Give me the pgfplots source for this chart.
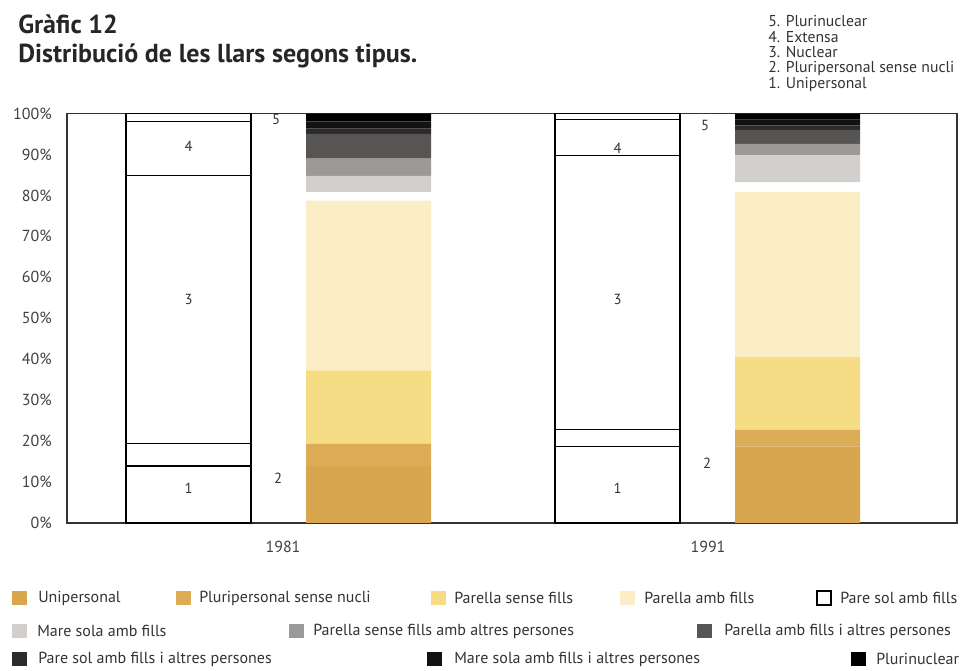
\documentclass[border=0pt]{standalone}
\usepackage{fontspec}
\setmainfont{PT Sans}
\usepackage{pgfplots}
\pgfplotsset{compat=1.18}

\definecolor{cUni}{HTML}{D8A64E}
\definecolor{cPluri}{HTML}{DCAD56}
\definecolor{cPsf}{HTML}{F6DC84}
\definecolor{cPaf}{HTML}{FBEDC6}
\definecolor{cMsf}{HTML}{D2CFCC}
\definecolor{cPsfa}{HTML}{9C9A98}
\definecolor{cPafa}{HTML}{575553}
\definecolor{cPsfia}{HTML}{2C2A2A}
\definecolor{cMsfia}{HTML}{121212}
\definecolor{cPlur}{HTML}{000000}

\tikzset{
  barlbl/.style={font=\fontsize{11}{13}\selectfont, text=black!80},
  keytxt/.style={anchor=base west, inner sep=0, font=\fontsize{11.8}{13}\selectfont, text=black!80},
  legtxt/.style={anchor=west, inner sep=0, font=\fontsize{12}{14}\selectfont, text=black!80},
  ttl/.style={anchor=base west, inner sep=0, font=\fontsize{19.5}{22}\selectfont\bfseries, text=black!85},
}

\begin{document}
\begin{tikzpicture}[x=0.75pt,y=0.75pt]
\useasboundingbox (0,0) rectangle (962,670);

% titles
\node[ttl] at (18,636) {Gràfic 12};
\node[ttl] at (18,607) {Distribució de les llars segons tipus.};

% key of the outline bars
\node[keytxt] at (768,643) {5. Plurinuclear};
\node[keytxt] at (768,627) {4. Extensa};
\node[keytxt] at (768,612) {3. Nuclear};
\node[keytxt] at (768,597) {2. Pluripersonal sense nucli};
\node[keytxt] at (768,581) {1. Unipersonal};

% outline bars (types 1-5)
\begin{axis}[
  at={(50.25pt,110.25pt)}, anchor=south west,
  scale only axis, width=667.5pt, height=307.1pt,
  xmin=67, xmax=957, ymin=0, ymax=100,
  ybar stacked, bar width=125,
  axis line style={line width=0.9pt, black!80},
  ytick={0,10,...,100},
  yticklabel={\pgfmathprintnumber{\tick}\%},
  xtick={283,708}, xticklabels={1981,1991},
  major tick length=0,
  tick label style={font=\fontsize{12}{14}\selectfont, text=black!75},
  yticklabel style={xshift=-8pt},
  xticklabel style={yshift=-10pt},
  /pgf/number format/assume math mode=true,
  clip=false,
]
\addplot[draw=black, fill=none, line width=0.9pt] coordinates {(188.5,13.9) (617.5,18.7)};
\addplot[draw=black, fill=none, line width=0.9pt] coordinates {(188.5,5.5) (617.5,4.1)};
\addplot[draw=black, fill=none, line width=0.9pt] coordinates {(188.5,65.4) (617.5,67.0)};
\addplot[draw=black, fill=none, line width=0.9pt] coordinates {(188.5,13.3) (617.5,8.7)};
\addplot[draw=black, fill=none, line width=0.9pt] coordinates {(188.5,1.9) (617.5,1.5)};

\node[barlbl] at (axis cs:188.5,8.6) {1};
\node[barlbl] at (axis cs:278,10.8) {2};
\node[barlbl] at (axis cs:188.5,54.5) {3};
\node[barlbl] at (axis cs:188.5,91.9) {4};
\node[barlbl] at (axis cs:276,98.5) {5};
\node[barlbl] at (axis cs:617.5,8.6) {1};
\node[barlbl] at (axis cs:707,14.7) {2};
\node[barlbl] at (axis cs:617.5,54.5) {3};
\node[barlbl] at (axis cs:617.5,91.5) {4};
\node[barlbl] at (axis cs:705,97) {5};
\end{axis}

% coloured bars (detailed types)
\begin{axis}[
  at={(50.25pt,110.25pt)}, anchor=south west,
  scale only axis, width=667.5pt, height=307.1pt,
  xmin=67, xmax=957, ymin=0, ymax=100,
  ybar stacked, bar width=125,
  hide axis,
]
\addplot[draw=none, fill=cUni]   coordinates {(368.5,13.9) (797.5,18.7)};
\addplot[draw=none, fill=cPluri] coordinates {(368.5,5.5)  (797.5,4.1)};
\addplot[draw=none, fill=cPsf]   coordinates {(368.5,17.9) (797.5,17.7)};
\addplot[draw=none, fill=cPaf]   coordinates {(368.5,41.4) (797.5,40.3)};
\addplot[draw=none, fill=white]  coordinates {(368.5,2.1)  (797.5,2.4)};
\addplot[draw=none, fill=cMsf]   coordinates {(368.5,4.0)  (797.5,6.6)};
\addplot[draw=none, fill=cPsfa]  coordinates {(368.5,4.2)  (797.5,2.8)};
\addplot[draw=none, fill=cPafa]  coordinates {(368.5,6.0)  (797.5,3.4)};
\addplot[draw=none, fill=cPsfia] coordinates {(368.5,1.3)  (797.5,1.1)};
\addplot[draw=none, fill=cMsfia] coordinates {(368.5,1.8)  (797.5,1.4)};
\addplot[draw=none, fill=cPlur]  coordinates {(368.5,1.9)  (797.5,1.5)};
\end{axis}

% legend
\fill[cUni] (12,65) rectangle (27,79);      \node[legtxt] at (38,72) {Unipersonal};
\fill[cPluri] (176,65) rectangle (191,79);  \node[legtxt] at (199,72) {Pluripersonal sense nucli};
\fill[cPsf] (431,65) rectangle (446,79);    \node[legtxt] at (454,72) {Parella sense fills};
\fill[cPaf] (620,65) rectangle (635,79);    \node[legtxt] at (644,72) {Parella amb fills};
\draw[black, line width=0.8pt] (817,65) rectangle (831,79); \node[legtxt] at (840,72) {Pare sol amb fills};
\fill[cMsf] (12,32) rectangle (27,46);      \node[legtxt] at (37,39) {Mare sola amb fills};
\fill[cPsfa] (289,32) rectangle (304,46);   \node[legtxt] at (313,39) {Parella sense fills amb altres persones};
\fill[cPafa] (697,32) rectangle (712,46);   \node[legtxt] at (724,39) {Parella amb fills i altres persones};
\fill[cPsfia] (12,4) rectangle (27,18);     \node[legtxt] at (38,11) {Pare sol amb fills i altres persones};
\fill[cMsfia] (427,4) rectangle (442,18);   \node[legtxt] at (454,11) {Mare sola amb fills i altres persones};
\fill[cPlur] (851,4) rectangle (866,18);    \node[legtxt] at (876,11) {Plurinuclear};
\end{tikzpicture}
\end{document}
